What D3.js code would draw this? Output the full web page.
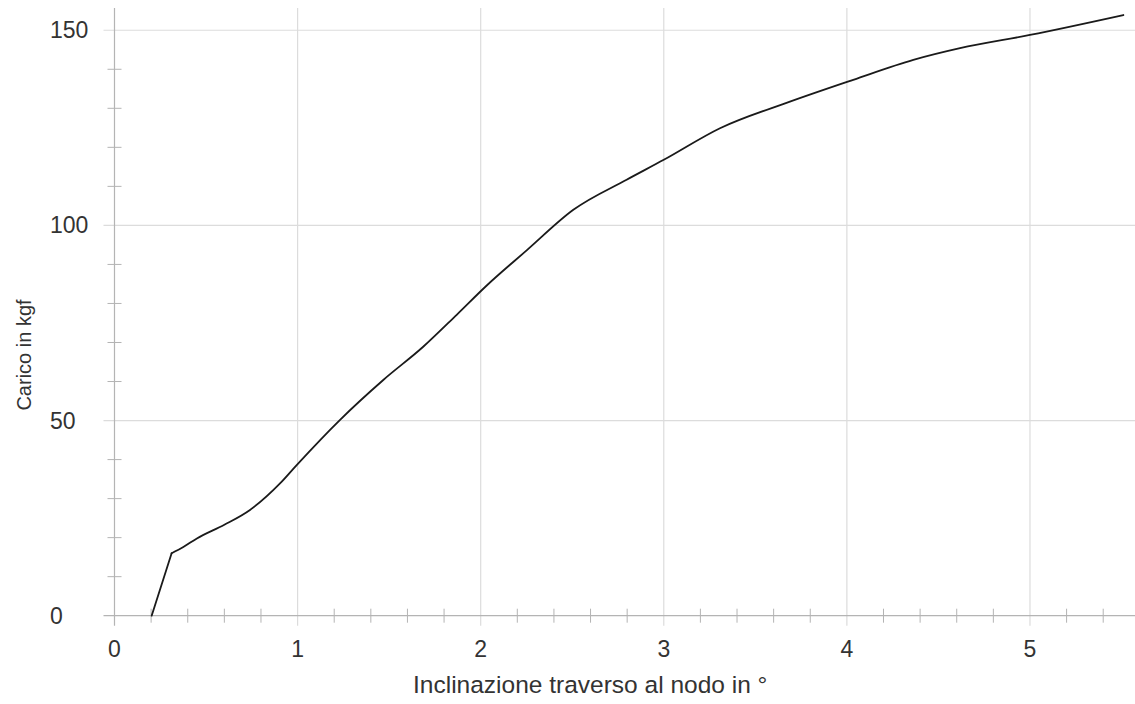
<!DOCTYPE html>
<html>
<head>
<meta charset="utf-8">
<script src="https://cdn.jsdelivr.net/npm/d3@7"></script>
<style>
  html, body { margin: 0; padding: 0; background: #fff; }
  svg { display: block; font-family: "Liberation Sans", Arial, sans-serif; }
</style>
</head>
<body>
<svg id="chart" width="1135" height="704"></svg>
<script>
// ---- data ----
const angle = [0.203, 0.312, 0.376, 0.45, 0.6, 0.74, 0.904, 0.995, 1.232, 1.468, 1.686, 1.869, 2.033, 2.251, 2.506, 2.797, 3.0, 3.307, 3.689, 4.035, 4.363, 4.618, 5.0, 5.51];
const load  = [0, 16.0, 17.6, 19.8, 23.3, 27.1, 33.9, 38.6, 50.2, 60.4, 68.9, 77.1, 84.6, 93.6, 104, 111.7, 116.8, 124.9, 131.7, 137.3, 142.4, 145.4, 148.8, 153.9];
const xTicks = [0, 1, 2, 3, 4, 5];
const yTicks = [0, 50, 100, 150];
const xMinorTicks = d3.range(0, 5.6, 0.2).map(v => +v.toFixed(1)).filter(v => !xTicks.includes(v));
const yMinorTicks = d3.range(0, 156, 10).filter(v => !yTicks.includes(v));
const xTitle = "Inclinazione traverso al nodo in °";
const yTitle = "Carico in kgf";

// ---- layout ----
const W = 1135, H = 704;
const svg = d3.select("#chart");
const x = d3.scaleLinear().domain([0, 5.56]).range([114.5, 1132.5]);
const y = d3.scaleLinear().domain([0, 155.7]).range([615.7, 8]);
const gridColor = "#dcdcdc";
const axisColor = "#b4b4b4";
const textColor = "#333";

// vertical gridlines (major x), extending below axis as major ticks
svg.append("g").selectAll("line").data(xTicks.filter(d => d > 0)).join("line")
  .attr("x1", d => x(d)).attr("x2", d => x(d))
  .attr("y1", y(155.7)).attr("y2", y(0) + 10)
  .attr("stroke", gridColor).attr("stroke-width", 1.2);

// horizontal gridlines (major y), extending left of axis as ticks
svg.append("g").selectAll("line").data(yTicks.filter(d => d > 0)).join("line")
  .attr("x1", x(0) - 11).attr("x2", W)
  .attr("y1", d => y(d)).attr("y2", d => y(d))
  .attr("stroke", gridColor).attr("stroke-width", 1.2);

// axes lines
svg.append("line").attr("x1", x(0) - 11).attr("x2", W)
  .attr("y1", y(0)).attr("y2", y(0)).attr("stroke", axisColor).attr("stroke-width", 1.2);
svg.append("line").attr("x1", x(0)).attr("x2", x(0))
  .attr("y1", y(155.7)).attr("y2", y(0) + 10).attr("stroke", axisColor).attr("stroke-width", 1.2);

// minor ticks
svg.append("g").selectAll("line").data(xMinorTicks).join("line")
  .attr("x1", d => x(d)).attr("x2", d => x(d))
  .attr("y1", y(0) - 7).attr("y2", y(0) + 7)
  .attr("stroke", axisColor).attr("stroke-width", 1);
svg.append("g").selectAll("line").data(yMinorTicks).join("line")
  .attr("x1", x(0) - 7).attr("x2", x(0) + 7)
  .attr("y1", d => y(d)).attr("y2", d => y(d))
  .attr("stroke", axisColor).attr("stroke-width", 1);

// tick labels
svg.append("g").selectAll("text").data(xTicks).join("text")
  .attr("x", d => x(d)).attr("y", 657)
  .attr("text-anchor", "middle")
  .attr("font-size", 23).attr("fill", textColor)
  .text(d => d);
svg.append("g").selectAll("text").data(yTicks).join("text")
  .attr("x", 50).attr("y", d => y(d) + 8)
  .attr("text-anchor", "start")
  .attr("font-size", 23).attr("fill", textColor)
  .text(d => d);

// axis titles
svg.append("text").attr("x", (x(2) + x(3)) / 2 + 18).attr("y", 693)
  .attr("text-anchor", "middle").attr("font-size", 24.5).attr("fill", textColor)
  .text(xTitle);
svg.append("text")
  .attr("transform", `translate(31, 355) rotate(-90)`)
  .attr("text-anchor", "middle").attr("font-size", 20).attr("fill", textColor)
  .text(yTitle);

// curve: straight initial segment up to the kink, smooth afterwards
const pts = angle.map((a, i) => [a, load[i]]);
const lineLin = d3.line().x(d => x(d[0])).y(d => y(d[1])).curve(d3.curveLinear);
const lineSmooth = d3.line().x(d => x(d[0])).y(d => y(d[1])).curve(d3.curveMonotoneX);
const g = svg.append("g").attr("fill", "none").attr("stroke", "#1a1a1a")
  .attr("stroke-width", 1.8).attr("stroke-linejoin", "round").attr("stroke-linecap", "round");
g.append("path").datum(pts.slice(0, 2)).attr("d", lineLin);
g.append("path").datum(pts.slice(1)).attr("d", lineSmooth);
</script>
</body>
</html>
